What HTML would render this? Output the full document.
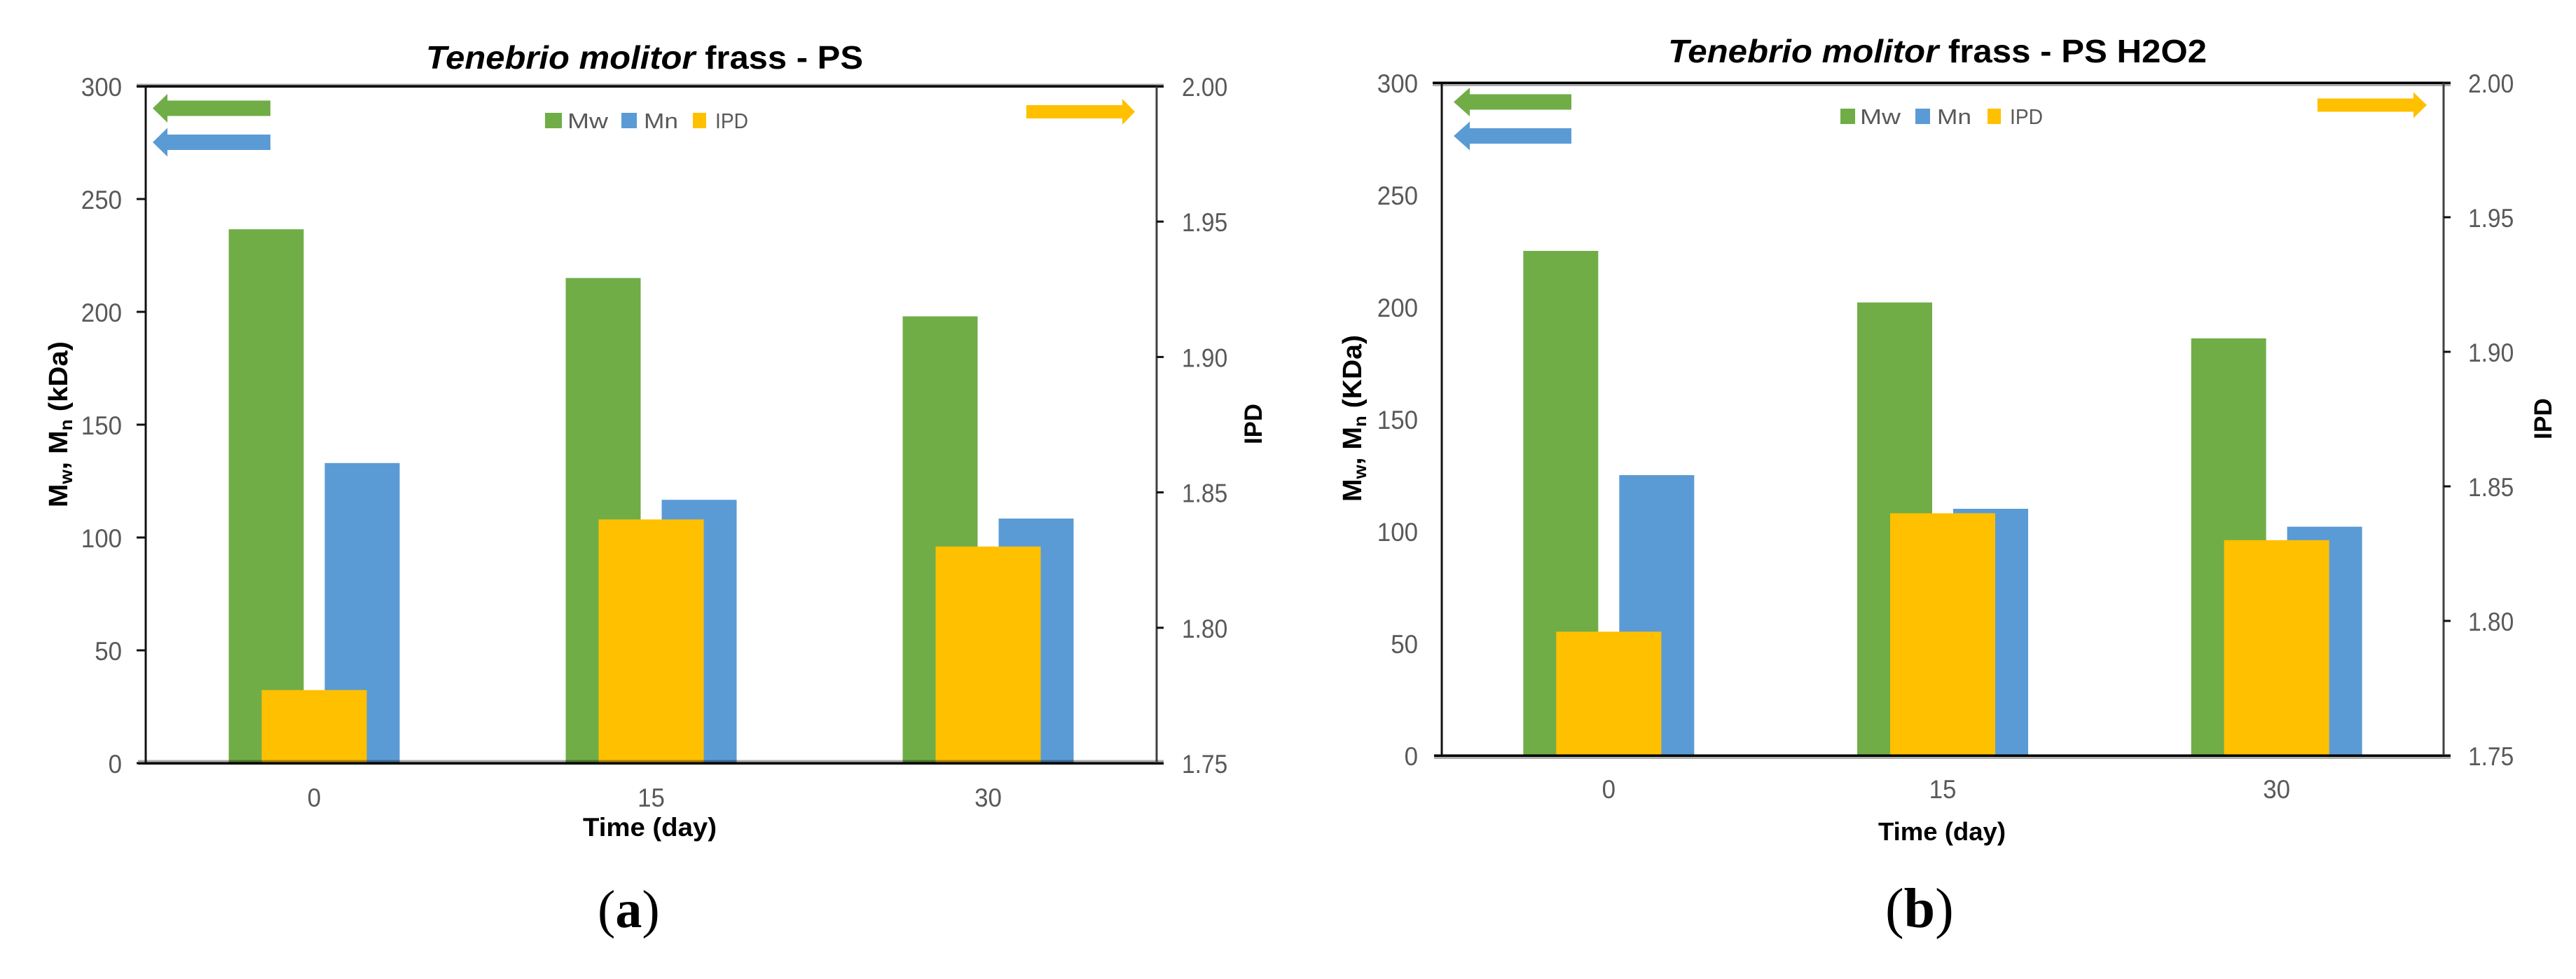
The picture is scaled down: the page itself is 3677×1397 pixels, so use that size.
<!DOCTYPE html>
<html lang="en">
<head>
<meta charset="utf-8">
<title>Tenebrio molitor frass - PS and PS H2O2</title>
<style>
  html, body { margin: 0; padding: 0; background: #fff; }
  svg { display: block; font-family: "Liberation Sans", sans-serif; }
</style>
</head>
<body>
<svg id="figure" xmlns="http://www.w3.org/2000/svg" width="3677" height="1397" viewBox="0 0 3677 1397">
  <rect x="0" y="0" width="3677" height="1397" fill="#ffffff"/>

  <g id="panel-a"></g>
  <g id="panel-b"></g>

  <!-- Panel (a) text -->
  <text x="608" y="98" font-size="46" font-weight="bold" fill="#000" textLength="624" lengthAdjust="spacingAndGlyphs"><tspan font-style="italic">Tenebrio molitor</tspan> frass - PS</text>
  <text x="832" y="1193" font-size="37" font-weight="bold" fill="#000" textLength="191" lengthAdjust="spacingAndGlyphs">Time (day)</text>
  <text transform="translate(96 724) rotate(-90)" font-size="38" font-weight="bold" fill="#000" textLength="237" lengthAdjust="spacingAndGlyphs">M<tspan font-size="25" dy="7">w</tspan><tspan dy="-7">, M</tspan><tspan font-size="25" dy="7">n</tspan><tspan dy="-7"> (kDa)</tspan></text>
  <text transform="translate(1801 634) rotate(-90)" font-size="35" font-weight="bold" fill="#000" textLength="58" lengthAdjust="spacingAndGlyphs">IPD</text>
  <text x="853" y="1323" font-family="Liberation Serif, serif" font-size="76" fill="#000">(<tspan font-weight="bold">a</tspan>)</text>

  <!-- Panel (b) text -->
  <text x="2381" y="89" font-size="46" font-weight="bold" fill="#000" textLength="769" lengthAdjust="spacingAndGlyphs"><tspan font-style="italic">Tenebrio molitor</tspan> frass - PS H2O2</text>
  <text x="2681" y="1199" font-size="36" font-weight="bold" fill="#000" textLength="182" lengthAdjust="spacingAndGlyphs">Time (day)</text>
  <text transform="translate(1943 716) rotate(-90)" font-size="38" font-weight="bold" fill="#000" textLength="238" lengthAdjust="spacingAndGlyphs">M<tspan font-size="25" dy="7">w</tspan><tspan dy="-7">, M</tspan><tspan font-size="25" dy="7">n</tspan><tspan dy="-7"> (KDa)</tspan></text>
  <text transform="translate(3642 627) rotate(-90)" font-size="35" font-weight="bold" fill="#000" textLength="59" lengthAdjust="spacingAndGlyphs">IPD</text>
  <text x="2691" y="1323" font-family="Liberation Serif, serif" font-size="80" fill="#000">(<tspan font-weight="bold">b</tspan>)</text>
</svg>

<script>
// ---- Shared categories and axis labels ----
var categories = ['0', '15', '30'];
var leftTicks = [0, 50, 100, 150, 200, 250, 300];
var rightTicks = [1.75, 1.80, 1.85, 1.90, 1.95, 2.00];
var leftDomain = [0, 300];
var rightDomain = [1.75, 2.00];

// ---- Panel (a) series ----
var mwA = [236.6, 215, 198];
var mnA = [133, 116.7, 108.4];
var ipdA = [1.777, 1.84, 1.83];

// ---- Panel (b) series ----
var mwB = [225, 202, 186];
var mnB = [125, 110, 102];
var ipdB = [1.796, 1.84, 1.83];

var NS = 'http://www.w3.org/2000/svg';
var GREEN = '#70ad47', BLUE = '#5b9bd5', YELLOW = '#ffc000', GREY = '#595959';

function rect(parent, x, y, w, h, fill) {
  var el = document.createElementNS(NS, 'rect');
  el.setAttribute('x', x);
  el.setAttribute('y', y);
  el.setAttribute('width', w);
  el.setAttribute('height', h);
  el.setAttribute('fill', fill);
  parent.appendChild(el);
  return el;
}

function label(parent, x, y, str, anchor, size, length) {
  var el = document.createElementNS(NS, 'text');
  el.setAttribute('x', x);
  el.setAttribute('y', y);
  el.setAttribute('text-anchor', anchor);
  el.setAttribute('font-size', size);
  el.setAttribute('fill', GREY);
  el.setAttribute('textLength', length);
  el.setAttribute('lengthAdjust', 'spacingAndGlyphs');
  el.textContent = str;
  parent.appendChild(el);
  return el;
}

function numberWidth(str) {
  var w = 0;
  for (var i = 0; i < str.length; i++) { w += str[i] === '.' ? 7 : 19.4; }
  return w;
}

function arrow(parent, x0, x1, neck, yMid, shaftH, headH, fill) {
  var el = document.createElementNS(NS, 'polygon');
  var s = shaftH / 2, h = headH / 2;
  el.setAttribute('points', [
    x0 + ',' + yMid, neck + ',' + (yMid - h), neck + ',' + (yMid - s),
    x1 + ',' + (yMid - s), x1 + ',' + (yMid + s), neck + ',' + (yMid + s), neck + ',' + (yMid + h)
  ].join(' '));
  el.setAttribute('fill', fill);
  parent.appendChild(el);
  return el;
}

function drawPanel(id, suffix, mw, mn, ipd, L) {
  var g = document.getElementById(id);
  var x = function (i) { return L.left + (L.right - L.left) * (i + 0.5) / categories.length; };
  var yL = function (v) { return L.bottom - (v - leftDomain[0]) / (leftDomain[1] - leftDomain[0]) * (L.bottom - L.top); };
  var yR = function (v) { return L.bottom - (v - rightDomain[0]) / (rightDomain[1] - rightDomain[0]) * (L.bottom - L.top); };

  // Bars
  categories.forEach(function (c, i) {
    var b1 = rect(g, x(i) - 122, yL(mw[i]), 107, L.bottom - yL(mw[i]), GREEN);
    
    
    var b2 = rect(g, x(i) + 15, yL(mn[i]), 107, L.bottom - yL(mn[i]), BLUE);
    
    
  });
  categories.forEach(function (c, i) {
    var b3 = rect(g, x(i) - 75, yR(ipd[i]), 150, L.bottom - yR(ipd[i]), YELLOW);
    
    
  });

  // Axis frame
  var shadeTop = rect(g, L.left - 13, L.top + L.topShade, L.right - L.left + 23, 3, 'rgba(0,0,0,0.32)');
  
  
  var topLine = rect(g, L.left - 13, L.top - 1.5, L.right - L.left + 23, 3.5, '#000');
  
  
  var shadeBottom = rect(g, L.left - 11, L.bottom + L.bottomShade, L.right - L.left + 21, 3, 'rgba(0,0,0,0.32)');
  
  
  var xLine = rect(g, L.left - 11, L.bottom - 1.5, L.right - L.left + 21, 3.5, '#000');
  
  
  var leftLine = rect(g, L.left - 1.5, L.top, 3, L.bottom - L.top, '#111');
  
  
  var rightLine = rect(g, L.right - 1.5, L.top, 3, L.bottom - L.top, '#404040');
  
  

  // Left ticks and labels
  leftTicks.forEach(function (v) {
    if (L.leftTickMarks) {
      var t = rect(g, L.left - 13, yL(v) - 1.5, 13, 3, '#111');
      
      
    }
    var s = String(v);
    var lab = label(g, L.leftLabelX, yL(v) + 14, s, 'end', 37, numberWidth(s));
    
    
  });

  // Right ticks and labels
  rightTicks.forEach(function (v) {
    var t = rect(g, L.right, yR(v) - 1.5, 10, 3, '#111');
    
    
    var s = v.toFixed(2);
    var lab = label(g, L.rightLabelX, yR(v) + 14, s, 'start', 37, numberWidth(s));
    
    
  });

  // Category labels
  categories.forEach(function (c, i) {
    var lab = label(g, x(i), L.catY, c, 'middle', 37, numberWidth(c));
    
    
  });

  // Legend
  var sw1 = rect(g, L.legend[0], L.legendY, L.legendSw[0], 22, GREEN);
  
  
  var t1 = label(g, L.legend[1], L.legendY + 22, 'Mw', 'start', 31, 58);
  
  
  var sw2 = rect(g, L.legend[2], L.legendY, L.legendSw[1], 22, BLUE);
  
  
  var t2 = label(g, L.legend[3], L.legendY + 22, 'Mn', 'start', 31, 49);
  
  
  var sw3 = rect(g, L.legend[4], L.legendY, L.legendSw[2], 22, YELLOW);
  
  
  var t3 = label(g, L.legend[5], L.legendY + 22, 'IPD', 'start', 31, 47);
  
  

  // Direction arrows
  var a1 = arrow(g, L.arrowL[0], L.arrowL[2], L.arrowL[1], L.arrowGreenY, 22, 41, GREEN);
  
  
  var a2 = arrow(g, L.arrowL[0], L.arrowL[2], L.arrowL[1], L.arrowBlueY, 22, 41, BLUE);
  
  
  var a3 = arrow(g, L.arrowR[0], L.arrowR[2], L.arrowR[1], L.arrowYellowY, 19, 37, YELLOW);
  
  
}

drawPanel('panel-a', 'a', mwA, mnA, ipdA, {
  left: 208, right: 1651, top: 123, bottom: 1089,
  topShade: -3.5, bottomShade: -4.5, leftTickMarks: true,
  leftLabelX: 174, rightLabelX: 1687, catY: 1151,
  legend: [778, 810, 887, 919, 989, 1021], legendSw: [24, 22, 19], legendY: 161,
  arrowL: [218, 239, 386], arrowGreenY: 154.5, arrowBlueY: 203,
  arrowR: [1620, 1602, 1465], arrowYellowY: 159.5
});

drawPanel('panel-b', 'b', mwB, mnB, ipdB, {
  left: 2058, right: 3488, top: 118, bottom: 1078,
  topShade: 2, bottomShade: 2, leftTickMarks: false,
  leftLabelX: 2024, rightLabelX: 3523, catY: 1139,
  legend: [2627, 2655, 2734, 2765, 2837, 2869], legendSw: [21, 21, 19], legendY: 155,
  arrowL: [2075, 2098, 2243], arrowGreenY: 145.5, arrowBlueY: 194,
  arrowR: [3464, 3445, 3308], arrowYellowY: 150
});
</script>
</body>
</html>
